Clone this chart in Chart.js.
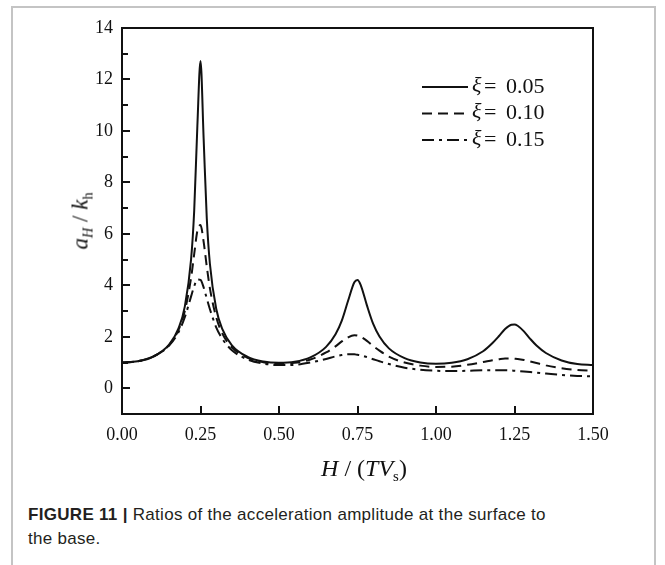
<!DOCTYPE html>
<html>
<head>
<meta charset="utf-8">
<title>Figure 11</title>
<script src="https://cdn.jsdelivr.net/npm/chart.js@4.4.0/dist/chart.umd.min.js"></script>
<style>
    html, body { margin: 0; padding: 0; background: #fff; }
    body { width: 665px; height: 565px; position: relative; overflow: hidden; }
    #frame { position: absolute; left: 11px; top: 6px; width: 641px; height: 620px; border: 2px solid #c4c4c4; border-bottom: none; }
    #wrap { position: absolute; left: 0; top: 0; width: 665px; height: 500px; }
    .serif { font-family: "Liberation Serif", "Times New Roman", serif; color: #111; position: absolute; white-space: nowrap; }
    .serif sub { font-size: 0.62em; vertical-align: -0.35em; font-style: normal; }
    #ytitle { left: 82px; top: 221px; transform: translate(-50%, -50%) rotate(-90deg); font-size: 23px; }
    #xtitle { left: 364px; top: 470px; transform: translate(-50%, -50%); font-size: 24px; }
    #caption { position: absolute; left: 28px; top: 503px; width: 536px; font-family: "Liberation Sans", Arial, sans-serif; font-size: 17px; letter-spacing: 0.3px; line-height: 24px; color: #231f20; }
</style>
</head>
<body>
<div id="frame"></div>
<div id="wrap"><canvas id="ratioChart"></canvas></div>
<div id="ytitle" class="serif"><i>a</i><sub><i>H</i></sub> / <i>k</i><sub>h</sub></div>
<div id="xtitle" class="serif"><i>H</i> / (<i>TV</i><sub>s</sub>)</div>
<div id="caption"><b>FIGURE 11 |</b> Ratios of the acceleration amplitude at the surface to the base.</div>

<script>
// H / (T Vs) sample positions
const xs = [0, 0.05, 0.10, 0.15, 0.18, 0.20, 0.22, 0.23, 0.24, 0.25, 0.26, 0.27, 0.28, 0.30, 0.32, 0.35,
    0.40, 0.45, 0.50, 0.55, 0.60, 0.65, 0.68, 0.70, 0.72, 0.74, 0.75, 0.76, 0.78, 0.80, 0.82, 0.85,
    0.90, 0.95, 1.00, 1.05, 1.10, 1.15, 1.18, 1.20, 1.22, 1.24, 1.25, 1.26, 1.28, 1.30, 1.32, 1.35,
    1.40, 1.45, 1.50];

// a_H / k_h
const xi005 = [1.00, 1.05, 1.24, 1.70, 2.33, 3.17, 5.01, 6.92, 10.19, 12.72, 9.70, 6.61, 4.83, 3.09, 2.29, 1.67,
    1.22, 1.04, 0.99, 1.03, 1.20, 1.61, 2.10, 2.63, 3.40, 4.12, 4.21, 4.02, 3.22, 2.50, 2.01, 1.55,
    1.17, 1.00, 0.95, 0.99, 1.13, 1.44, 1.76, 2.02, 2.30, 2.47, 2.48, 2.43, 2.21, 1.92, 1.66, 1.37,
    1.08, 0.94, 0.90];
const xi010 = [1.00, 1.05, 1.23, 1.68, 2.27, 3.00, 4.29, 5.22, 6.11, 6.34, 5.69, 4.73, 3.88, 2.76, 2.12, 1.59,
    1.18, 1.01, 0.95, 0.99, 1.12, 1.39, 1.63, 1.82, 1.98, 2.06, 2.05, 2.00, 1.84, 1.64, 1.46, 1.23,
    1.00, 0.88, 0.83, 0.84, 0.91, 1.02, 1.09, 1.13, 1.16, 1.16, 1.15, 1.14, 1.10, 1.04, 0.98, 0.89,
    0.78, 0.71, 0.68];
const xi015 = [1.00, 1.05, 1.23, 1.66, 2.18, 2.76, 3.57, 3.97, 4.23, 4.21, 3.92, 3.49, 3.07, 2.37, 1.91, 1.48,
    1.12, 0.96, 0.90, 0.91, 1.00, 1.14, 1.24, 1.29, 1.32, 1.32, 1.30, 1.28, 1.21, 1.13, 1.05, 0.94,
    0.80, 0.72, 0.68, 0.67, 0.68, 0.70, 0.70, 0.70, 0.70, 0.69, 0.68, 0.67, 0.65, 0.63, 0.61, 0.57,
    0.52, 0.48, 0.46];

const seriesLabels = ["0.05", "0.10", "0.15"];
const xMin = 0, xMax = 1.5, xStep = 0.25;
const yMin = -1, yMax = 14;

const SERIF = '"Liberation Serif", "Times New Roman", serif';
const INK = "#111";

function toPoints(ys) {
    return xs.map((x, i) => ({ x: x, y: ys[i] }));
}

// box, inward ticks and the legend inside the plot
const frameAndLegend = {
    id: "frameAndLegend",
    afterDatasetsDraw(chart) {
        const { ctx, chartArea: a, scales } = chart;
        ctx.save();
        ctx.strokeStyle = INK;
        ctx.lineWidth = 2;
        ctx.strokeRect(a.left, a.top, a.right - a.left, a.bottom - a.top);

        ctx.beginPath();
        scales.x.ticks.forEach(t => {
            const px = Math.round(scales.x.getPixelForValue(t.value));
            ctx.moveTo(px, a.bottom);
            ctx.lineTo(px, a.bottom - 8);
        });
        scales.y.ticks.forEach(t => {
            if (t.value <= yMin || t.value >= yMax) return;
            const py = Math.round(scales.y.getPixelForValue(t.value));
            ctx.moveTo(a.left, py);
            ctx.lineTo(a.left + (t.value % 2 === 0 ? 8 : 6), py);
        });
        ctx.stroke();

        // legend
        const x0 = a.right - 171, x1 = a.right - 125, tx = a.right - 121;
        chart.data.datasets.forEach((ds, i) => {
            const ry = a.top + 59 + i * 26.5;
            ctx.beginPath();
            ctx.setLineDash(ds.borderDash || []);
            ctx.lineWidth = 2;
            ctx.moveTo(x0, ry);
            ctx.lineTo(x1, ry);
            ctx.stroke();
            ctx.setLineDash([]);
            ctx.fillStyle = INK;
            ctx.textBaseline = "middle";
            ctx.textAlign = "left";
            ctx.font = "italic 22px " + SERIF;
            ctx.fillText("ξ", tx, ry - 1);
            ctx.font = "22px " + SERIF;
            ctx.fillText("=", tx + 12, ry);
            ctx.fillText(seriesLabels[i], tx + 34, ry);
        });
        ctx.restore();
    }
};

const ctx = document.getElementById("ratioChart").getContext("2d");
new Chart(ctx, {
    type: "line",
    data: {
        datasets: [
            { label: "ξ = " + seriesLabels[0], data: toPoints(xi005), borderDash: [] },
            { label: "ξ = " + seriesLabels[1], data: toPoints(xi010), borderDash: [10, 6] },
            { label: "ξ = " + seriesLabels[2], data: toPoints(xi015), borderDash: [12, 5, 3, 5] }
        ].map(ds => Object.assign(ds, {
            borderColor: INK,
            borderWidth: 2,
            pointRadius: 0,
            fill: false,
            cubicInterpolationMode: "monotone"
        }))
    },
    options: {
        responsive: true,
        maintainAspectRatio: false,
        animation: false,
        devicePixelRatio: 1,
        layout: { padding: { left: 0, top: 28, right: 72, bottom: 0 } },
        plugins: {
            legend: { display: false },
            tooltip: { enabled: false }
        },
        scales: {
            x: {
                type: "linear",
                min: xMin,
                max: xMax,
                grid: { display: false, drawTicks: false },
                border: { display: false },
                ticks: {
                    stepSize: xStep,
                    padding: 10,
                    color: INK,
                    font: { family: SERIF, size: 18 },
                    maxRotation: 0,
                    callback: v => v.toFixed(2)
                },
                afterFit: s => { s.height = 86; }
            },
            y: {
                min: yMin,
                max: yMax,
                grid: { display: false, drawTicks: false },
                border: { display: false },
                ticks: {
                    stepSize: 1,
                    autoSkip: false,
                    padding: 9,
                    color: INK,
                    font: { family: SERIF, size: 18 },
                    callback: v => (v >= 0 && v % 2 === 0) ? String(v) : ""
                },
                afterFit: s => { s.width = 122; }
            }
        }
    },
    plugins: [frameAndLegend]
});
</script>
</body>
</html>
